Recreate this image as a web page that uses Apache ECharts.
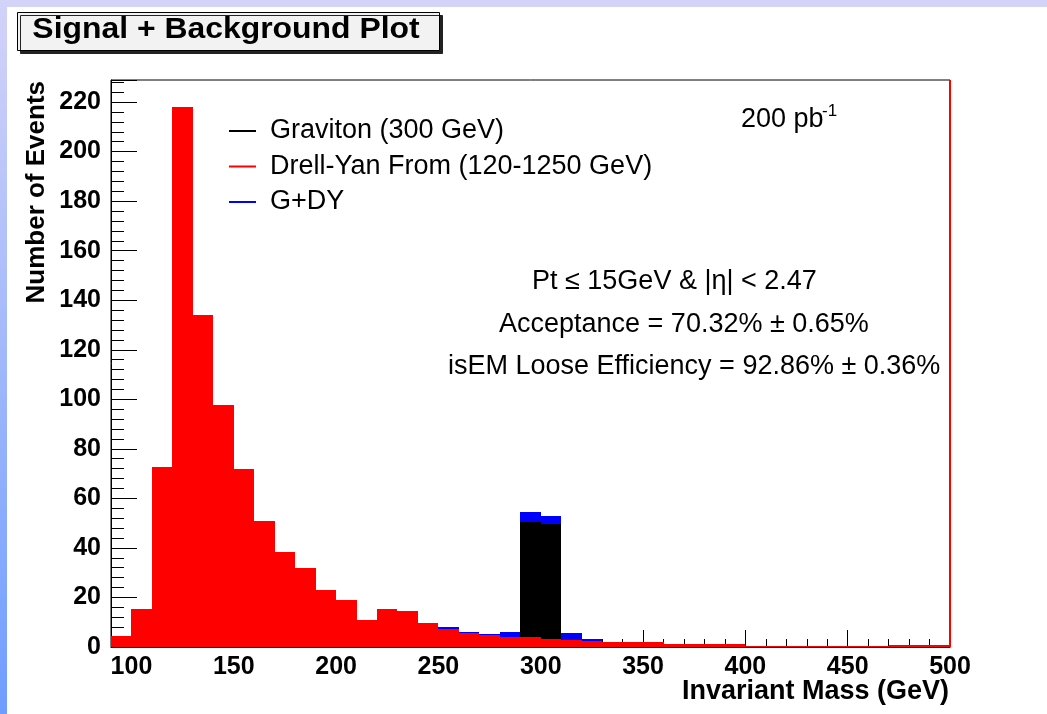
<!DOCTYPE html>
<html>
<head>
<meta charset="utf-8">
<title>Signal + Background Plot</title>
<script src="https://cdn.jsdelivr.net/npm/echarts@6/dist/echarts.min.js"></script>
<style>
  html, body { margin: 0; padding: 0; background: #fff; }
  #page { position: relative; width: 1047px; height: 714px; overflow: hidden; background: #fff; }
  #topband { position: absolute; left: 0; top: 0; width: 1047px; height: 7px; background: #d3d3f8; }
  #sideband { position: absolute; left: 0; top: 0; width: 7px; height: 714px; background: linear-gradient(#d3d3f8, #6f9dff); }
  #chart { position: absolute; left: 0; top: 0; width: 1047px; height: 714px; }
</style>
</head>
<body>
<div id="page">
  <div id="topband"></div>
  <div id="sideband"></div>
  <div id="chart"></div>
</div>
<script>
// Invariant-mass histogram, 10 GeV bins from 90 to 500 GeV (lower bin edges).
const binLow = [90, 100, 110, 120, 130, 140, 150, 160, 170, 180,
                190, 200, 210, 220, 230, 240, 250, 260, 270, 280,
                290, 300, 310, 320, 330, 340, 350, 360, 370, 380,
                390, 400, 410, 420, 430, 440, 450, 460, 470, 480, 490];
const BIN_WIDTH = 10;

// Drell-Yan background, events per bin
const drellYan = [4.4, 15.2, 72.5, 218, 134, 97.5, 72, 51, 38.5, 32,
                  23, 19, 11, 15.2, 14.7, 9.8, 7.4, 5.6, 5.0, 4.2,
                  4.0, 3.2, 2.8, 2.5, 1.9, 1.9, 1.9, 1.3, 1.3, 1.3,
                  1.3, 0.4, 0.4, 0.4, 0.4, 0.4, 0.4, 0.4, 0.9, 0.9, 0.9];

// Graviton signal (300 GeV), events per bin
const graviton = [0, 0, 0, 0, 0, 0, 0, 0, 0, 0,
                  0, 0, 0, 0, 0, 0, 0.5, 0.4, 0.4, 2.0,
                  50.6, 49.5, 2.7, 0.6, 0, 0, 0, 0, 0, 0,
                  0, 0, 0, 0, 0, 0, 0, 0, 0, 0, 0];

// Signal + background
const combined = graviton.map((g, i) => +(g + drellYan[i]).toFixed(2));

const seriesNames = ['Graviton (300 GeV)', 'Drell-Yan From (120-1250 GeV)', 'G+DY'];
const statsLines = ['Pt \u2264 15GeV & |\u03b7| < 2.47',
                    'Acceptance = 70.32% \u00b1 0.65%',
                    'isEM Loose Efficiency = 92.86% \u00b1 0.36%'];

const FONT = '"Liberation Sans", Arial, Helvetica, sans-serif';

function toData(values) {
  return binLow.map((x, i) => [x, values[i]]);
}

// Each bin is a filled rectangle from its lower to upper edge, down to zero.
// Edges are snapped to whole pixels so neighbouring bins join without seams.
function histRender(color) {
  return function (params, api) {
    const x0 = api.value(0);
    const v = api.value(1);
    if (!(v > 0)) return null;
    const topLeft = api.coord([x0, v]);
    const bottomRight = api.coord([x0 + BIN_WIDTH, 0]);
    const left = Math.round(topLeft[0]);
    const right = Math.round(bottomRight[0]);
    const top = Math.round(topLeft[1]);
    const bottom = Math.round(bottomRight[1]);
    return {
      type: 'rect',
      shape: { x: left, y: top, width: right - left, height: Math.max(1, bottom - top) },
      style: { fill: color, stroke: null }
    };
  };
}

const chart = echarts.init(document.getElementById('chart'), null, { renderer: 'canvas' });

const option = {
  animation: false,
  backgroundColor: 'transparent',
  textStyle: { fontFamily: FONT },
  grid: {
    left: 111, right: 97, top: 80, bottom: 67,
    show: true, borderColor: '#000', borderWidth: 1, backgroundColor: 'transparent'
  },
  legend: {
    data: seriesNames.map(n => ({ name: n, icon: 'rect' })),
    orient: 'vertical',
    left: 229, top: 117,
    itemWidth: 27, itemHeight: 2, itemGap: 7.5,
    padding: 0,
    selectedMode: false,
    textStyle: { color: '#000', fontSize: 27, fontFamily: FONT, lineHeight: 28, padding: [0, 0, 0, 9] }
  },
  xAxis: {
    type: 'value', min: 90, max: 500, splitNumber: 8,
    axisLine: { lineStyle: { color: '#000', width: 1 } },
    axisTick: { inside: true, length: 17, lineStyle: { color: '#000', width: 1 } },
    minorTick: { show: true, splitNumber: 5, length: 8, lineStyle: { color: '#000', width: 1 } },
    splitLine: { show: false },
    axisLabel: { showMinLabel: false, color: '#000', fontSize: 25, fontWeight: 'bold', fontFamily: FONT, margin: 8 }
  },
  yAxis: {
    type: 'value', min: 0, max: 228.9, interval: 20,
    axisLine: { show: true, lineStyle: { color: '#000', width: 1 } },
    axisTick: { show: true, inside: true, length: 26, lineStyle: { color: '#000', width: 1 } },
    minorTick: { show: true, splitNumber: 5, length: 13, lineStyle: { color: '#000', width: 1 } },
    splitLine: { show: false },
    axisLabel: { showMaxLabel: false, color: '#000', fontSize: 25, fontWeight: 'bold', fontFamily: FONT, margin: 10 }
  },
  series: [
    {
      name: 'G+DY', type: 'custom', renderItem: histRender('#0000ff'),
      itemStyle: { color: '#0000ff' }, encode: { x: 0, y: 1 }, data: toData(combined)
    },
    {
      name: 'Graviton (300 GeV)', type: 'custom', renderItem: histRender('#000000'),
      itemStyle: { color: '#000000' }, encode: { x: 0, y: 1 }, data: toData(graviton)
    },
    {
      name: 'Drell-Yan From (120-1250 GeV)', type: 'custom', renderItem: histRender('#ff0000'),
      itemStyle: { color: '#ff0000' }, encode: { x: 0, y: 1 }, data: toData(drellYan),
      markLine: {
        silent: true, symbol: 'none', label: { show: false },
        lineStyle: { color: '#ff0000', width: 2, type: 'solid' },
        data: [{ xAxis: 500 }]
      }
    }
  ],
  graphic: [
    // title box with drop shadow
    {
      type: 'rect', left: 17, top: 12, z: 10,
      shape: { width: 422, height: 38 },
      style: { fill: '#f2f2f2', stroke: '#000', lineWidth: 1, shadowColor: '#222', shadowOffsetX: 3, shadowOffsetY: 3, shadowBlur: 0 }
    },
    {
      type: 'text', x: 226, y: 30, z: 11, scaleX: 1.1, scaleY: 1,
      style: { text: 'Signal + Background Plot', fill: '#000', font: 'bold 29px ' + FONT, textAlign: 'center', textVerticalAlign: 'middle' }
    },
    // axis titles
    {
      type: 'text', x: 37, y: 81, rotation: Math.PI / 2, z: 10,
      style: { text: 'Number of Events', fill: '#000', font: 'bold 26px ' + FONT, textAlign: 'right', textVerticalAlign: 'middle' }
    },
    {
      type: 'text', x: 949, y: 692, z: 10,
      style: { text: 'Invariant Mass (GeV)', fill: '#000', font: 'bold 27px ' + FONT, textAlign: 'right', textVerticalAlign: 'middle' }
    },
    // luminosity
    {
      type: 'text', x: 741, y: 120, z: 10,
      style: { text: '200 pb', fill: '#000', font: '27px ' + FONT, textAlign: 'left', textVerticalAlign: 'middle' }
    },
    {
      type: 'text', x: 822, y: 111, z: 10,
      style: { text: '-1', fill: '#000', font: '17px ' + FONT, textAlign: 'left', textVerticalAlign: 'middle' }
    },
    // selection / efficiency text
    {
      type: 'text', x: 532, y: 282, z: 10,
      style: { text: statsLines[0], fill: '#000', font: '27px ' + FONT, textAlign: 'left', textVerticalAlign: 'middle' }
    },
    {
      type: 'text', x: 499, y: 325, z: 10,
      style: { text: statsLines[1], fill: '#000', font: '27px ' + FONT, textAlign: 'left', textVerticalAlign: 'middle' }
    },
    {
      type: 'text', x: 448, y: 367, z: 10,
      style: { text: statsLines[2], fill: '#000', font: '27px ' + FONT, textAlign: 'left', textVerticalAlign: 'middle' }
    }
  ]
};

chart.setOption(option);
</script>
</body>
</html>
